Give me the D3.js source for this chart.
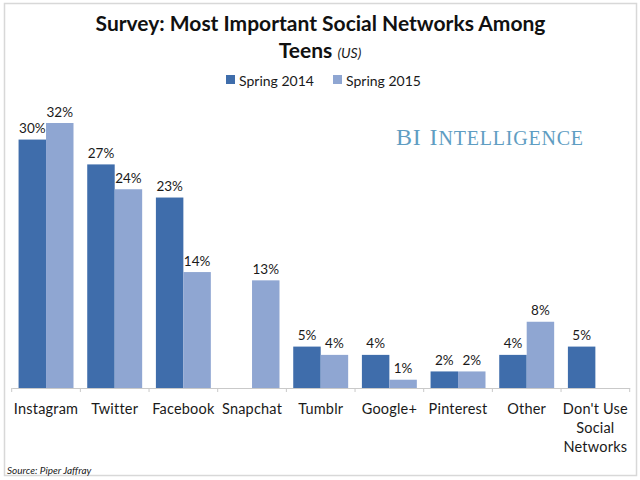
<!DOCTYPE html>
<html>
<head>
<meta charset="utf-8"/>
<script src="https://d3js.org/d3.v7.min.js"></script>
<style>
	html, body { margin: 0; padding: 0; background: #fff; }
	svg { display: block; }
	text { font-family: Lato, 'Open Sans', sans-serif; fill: #1a1a1a; }
</style>
</head>
<body>
<svg id="chart" width="640" height="480"></svg>
<script>
// values
var categories = ["Instagram", "Twitter", "Facebook", "Snapchat", "Tumblr", "Google+", "Pinterest", "Other", "Don't Use Social Networks"];
var spring2014 = [30, 27, 23, null, 5, 4, 2, 4, 5];
var spring2015 = [32, 24, 14, 13, 4, 1, 2, 8, null];
var seriesNames = ["Spring 2014", "Spring 2015"];
var seriesColors = ["#3f6dab", "#8fa6d2"];

var svg = d3.select('#chart');

// frame
svg.append('rect')
	.attr('x', 4.5).attr('y', 3.5).attr('width', 632).attr('height', 472)
	.style('fill', '#fff').style('stroke', '#d8d8d8').style('stroke-width', 1.5);

// scales
var x = d3.scaleBand().domain(categories).range([11.7, 629.7]);
var group = d3.scaleBand().domain([0, 1]).range([0, x.bandwidth()]).paddingOuter(0.25).paddingInner(0);
var y = d3.scaleLinear().domain([0, 32]).range([388, 123]);

// axis with the ticks between the categories
var axis = svg.append('g').attr('transform', 'translate(0,388)');
axis.call(d3.axisBottom(x).tickSize(0).tickFormat(''));
axis.select('.domain').style('stroke', '#c9c9c9');
axis.selectAll('.tick').remove();
axis.selectAll('line.sep')
	.data(d3.range(categories.length + 1))
	.enter().append('line')
	.attr('class', 'sep')
	.attr('x1', function(d) { return 11.7 + d * x.step(); })
	.attr('x2', function(d) { return 11.7 + d * x.step(); })
	.attr('y1', 0).attr('y2', 4)
	.style('stroke', '#c9c9c9');

// bars and their labels
[spring2014, spring2015].forEach(function(values, s) {
	var g = svg.append('g');
	var data = values.map(function(v, i) { return {v: v, c: categories[i]}; }).filter(function(d) { return d.v !== null; });
	g.selectAll('rect').data(data).enter().append('rect')
		.attr('x', function(d) { return x(d.c) + group(s); })
		.attr('y', function(d) { return y(d.v); })
		.attr('width', group.bandwidth())
		.attr('height', function(d) { return y(0) - y(d.v); })
		.style('fill', seriesColors[s]);
	g.selectAll('text').data(data).enter().append('text')
		.attr('x', function(d) { return x(d.c) + group(s) + group.bandwidth() / 2; })
		.attr('y', function(d) { return y(d.v) - 6.5; })
		.attr('text-anchor', 'middle')
		.style('font-size', '13.5px')
		.text(function(d) { return d.v + '%'; });
});

// category labels, the long one wraps
var wrapped = {"Don't Use Social Networks": ["Don't Use", "Social", "Networks"]};
var labels = svg.append('g').selectAll('text').data(categories).enter().append('text')
	.attr('text-anchor', 'middle')
	.style('font-size', '14.5px')
	.style('letter-spacing', '0.2px');
labels.selectAll('tspan')
	.data(function(d) { return (wrapped[d] || [d]).map(function(t) { return {t: t, c: d}; }); })
	.enter().append('tspan')
	.attr('x', function(d) { return x(d.c) + x.bandwidth() / 2; })
	.attr('y', function(d, i) { return 414 + i * 19; })
	.text(function(d) { return d.t; });

// title
svg.append('text').attr('x', 320.5).attr('y', 31).attr('text-anchor', 'middle')
	.style('font-size', '21px').style('font-weight', 700).style('fill', '#111')
	.text('Survey: Most Important Social Networks Among');
var t2 = svg.append('text').attr('x', 320).attr('y', 58).attr('text-anchor', 'middle');
t2.append('tspan').style('font-size', '21px').style('font-weight', 700).style('fill', '#111').text('Teens ');
t2.append('tspan').style('font-size', '14px').style('font-style', 'italic').text('(US)');

// legend
var legendX = [226, 333];
seriesNames.forEach(function(n, i) {
	svg.append('rect').attr('x', legendX[i]).attr('y', 75).attr('width', 9).attr('height', 9).style('fill', seriesColors[i]);
	svg.append('text').attr('x', legendX[i] + 13).attr('y', 86)
		.style('font-size', '14px').text(n);
});

// watermark
var bi = svg.append('text').attr('x', 396).attr('y', 145)
	.style('font-family', "'Liberation Serif', serif").style('fill', '#5f9dc2').style('letter-spacing', '0.8px');
bi.append('tspan').style('font-size', '24px').text('BI');
bi.append('tspan').attr('dx', 8).style('font-size', '24px').text('I');
bi.append('tspan').style('font-size', '20px').text('NTELLIGENCE');

// source
svg.append('text').attr('x', 7).attr('y', 474)
	.style('font-size', '10px').style('font-style', 'italic').text('Source: Piper Jaffray');
</script>
</body>
</html>
